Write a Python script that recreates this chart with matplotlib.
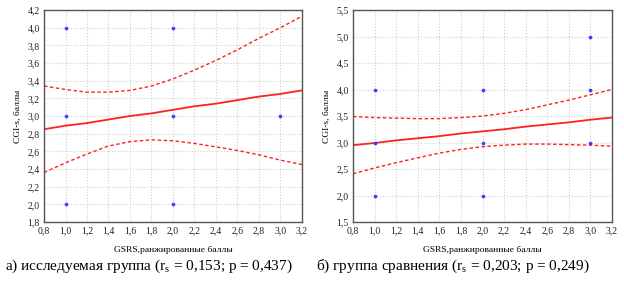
import matplotlib
matplotlib.use("Agg")
import matplotlib.pyplot as plt
from matplotlib.ticker import FuncFormatter

plt.rcParams['font.family'] = ['Liberation Serif', 'DejaVu Serif']

# ---- Data: panel a (study group) ----
a_px = [1, 1, 1, 2, 2, 2, 3]
a_py = [4, 3, 2, 4, 3, 2, 3]
band_x = [0.8, 1.0, 1.2, 1.4, 1.6, 1.8, 2.0, 2.2, 2.4, 2.6, 2.8, 3.0, 3.2]
a_fit = [2.85, 2.89, 2.92, 2.96, 3.00, 3.03, 3.07, 3.11, 3.14, 3.18, 3.22, 3.25, 3.29]
a_upper = [3.34, 3.30, 3.27, 3.27, 3.29, 3.34, 3.42, 3.52, 3.63, 3.75, 3.88, 4.00, 4.13]
a_lower = [2.36, 2.47, 2.57, 2.66, 2.71, 2.73, 2.72, 2.69, 2.65, 2.61, 2.56, 2.50, 2.45]

# ---- Data: panel b (comparison group) ----
b_px = [1, 1, 1, 2, 2, 2, 3, 3, 3]
b_py = [4, 3, 2, 4, 3, 2, 5, 4, 3]
b_fit = [2.95, 2.99, 3.04, 3.08, 3.12, 3.17, 3.21, 3.25, 3.30, 3.34, 3.38, 3.43, 3.47]
b_upper = [3.49, 3.47, 3.46, 3.45, 3.45, 3.47, 3.50, 3.55, 3.62, 3.71, 3.80, 3.90, 4.00]
b_lower = [2.41, 2.52, 2.62, 2.71, 2.80, 2.87, 2.92, 2.95, 2.97, 2.97, 2.96, 2.95, 2.93]

x_ticks = [0.8, 1.0, 1.2, 1.4, 1.6, 1.8, 2.0, 2.2, 2.4, 2.6, 2.8, 3.0, 3.2]
a_yticks = [1.8, 2.0, 2.2, 2.4, 2.6, 2.8, 3.0, 3.2, 3.4, 3.6, 3.8, 4.0, 4.2]
b_yticks = [1.5, 2.0, 2.5, 3.0, 3.5, 4.0, 4.5, 5.0, 5.5]

x_label = "GSRS,ранжированные баллы"
y_label = "CGI-s, баллы"
cap_a = "а) исследуемая группа (r$_\\mathregular{s}$ = 0,153; p = 0,437)"
cap_b = "б) группа сравнения (r$_\\mathregular{s}$ = 0,203; p = 0,249)"

fig = plt.figure(figsize=(6.24, 2.82), dpi=100)
W, H = 624, 282
comma = FuncFormatter(lambda v, p: f"{v:.1f}".replace(".", ","))


def panel(left, right, px, py, fit, up, lo, yticks, caption, cap_x):
    ax = fig.add_axes([left / W, 1 - 222 / H, (right - left) / W, 212 / H])
    ax.plot(band_x, fit, color="#ff2020", lw=1.3)
    ax.plot(band_x, up, color="#ff2020", lw=1.0, ls=(0, (2.5, 1.8)))
    ax.plot(band_x, lo, color="#ff2020", lw=1.0, ls=(0, (2.5, 1.8)))
    ax.scatter(px, py, s=7, color="#3040ff", zorder=3, linewidths=0)
    ax.set_xlim(0.8, 3.2)
    ax.set_ylim(yticks[0], yticks[-1])
    ax.set_xticks(x_ticks)
    ax.set_yticks(yticks)
    ax.xaxis.set_major_formatter(comma)
    ax.yaxis.set_major_formatter(comma)
    ax.grid(True, color="#cfcfcf", ls=":", lw=0.8)
    ax.tick_params(labelsize=7, length=0, pad=3, colors="#222222")
    for s in ax.spines.values():
        s.set_color("#555555")
        s.set_linewidth(1.0)
    ax.set_xlabel(x_label, fontsize=6.8, labelpad=8)
    ax.set_ylabel(y_label, fontsize=6.8, labelpad=4)
    fig.text(cap_x / W, 1 - 266 / H, caption, fontsize=11, ha="left", va="center")
    return ax


panel(44, 302, a_px, a_py, a_fit, a_upper, a_lower, a_yticks, cap_a, 5)
panel(353, 612, b_px, b_py, b_fit, b_upper, b_lower, b_yticks, cap_b, 316)

fig.savefig("out.png", dpi=100)
